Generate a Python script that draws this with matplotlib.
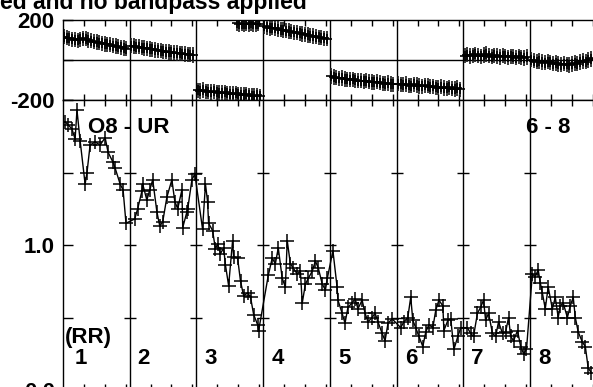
import numpy as np
import matplotlib
matplotlib.use('Agg')
import matplotlib.pyplot as plt

plt.rcParams['font.family'] = ['Liberation Sans', 'DejaVu Sans']
plt.rcParams['font.weight'] = 'bold'

# hours per baseline column, 8 columns side by side
col_hours = 32
column_labels = ['1', '2', '3', '4', '5', '6', '7', '8']

# amplitude (bottom panel), hours within each column
amp_hours = [
    [1.0, 2.4, 4.3, 5.8, 6.7, 8.2, 10.6, 11.5, 13.0, 15.4, 17.8, 20.2, 21.6, 24.0, 25.0, 27.4, 28.8, 30.2],
    [2.4, 3.8, 5.8, 6.2, 8.2, 9.6, 11.0, 13.0, 14.4, 15.8, 17.8, 20.2, 21.6, 23.0, 25.0, 25.4, 27.4, 27.8, 29.8, 31.2],
    [2.9, 4.3, 5.3, 5.8, 7.7, 9.1, 10.1, 11.5, 13.0, 13.9, 15.4, 17.3, 17.8, 19.7, 21.1, 22.6, 24.5, 25.9, 27.4, 29.3, 29.8],
    [2.4, 4.3, 5.8, 7.2, 9.1, 10.6, 11.5, 13.0, 14.4, 16.3, 17.8, 18.7, 20.2, 21.6, 23.5, 25.0, 26.4, 28.3, 29.8, 30.7],
    [1.4, 3.4, 3.8, 5.8, 7.2, 8.6, 10.6, 12.0, 13.4, 15.4, 16.8, 18.2, 20.2, 21.6, 23.0, 25.0, 26.4, 27.8, 29.8],
    [1.9, 3.4, 5.3, 6.7, 7.7, 9.1, 10.6, 12.5, 13.9, 15.4, 17.3, 18.7, 20.2, 22.1, 22.6, 24.5, 25.9, 27.4, 29.3, 30.7],
    [1.9, 3.4, 4.8, 6.7, 8.2, 9.6, 10.6, 12.0, 13.9, 15.4, 16.8, 18.7, 20.2, 21.6, 22.6, 24.0, 25.9, 27.4, 28.8, 30.2],
    [1.0, 2.4, 3.8, 4.8, 5.8, 7.2, 8.6, 10.6, 12.0, 13.4, 14.4, 15.8, 17.8, 19.2, 20.6, 21.6, 23.0, 25.0, 26.4, 27.8, 29.3],
]
amp_values = [
    [1.85, 1.83, 1.80, 1.73, 1.93, 1.72, 1.42, 1.50, 1.69, 1.71, 1.69, 1.74, 1.64, 1.57, 1.53, 1.42, 1.38, 1.15],
    [1.18, 1.25, 1.37, 1.42, 1.31, 1.38, 1.45, 1.23, 1.13, 1.16, 1.33, 1.45, 1.30, 1.25, 1.38, 1.12, 1.23, 1.25, 1.45, 1.49],
    [1.11, 1.42, 1.30, 1.15, 1.10, 0.97, 1.01, 0.94, 0.98, 0.86, 0.72, 1.03, 0.92, 0.91, 0.75, 0.65, 0.67, 0.64, 0.52, 0.45, 0.41],
    [0.79, 0.91, 0.87, 0.98, 0.77, 0.71, 1.03, 0.87, 0.84, 0.80, 0.82, 0.60, 0.73, 0.77, 0.82, 0.89, 0.84, 0.73, 0.69, 0.77],
    [0.96, 0.71, 0.62, 0.53, 0.46, 0.57, 0.60, 0.63, 0.56, 0.62, 0.53, 0.47, 0.50, 0.53, 0.47, 0.39, 0.34, 0.46, 0.49],
    [0.43, 0.47, 0.50, 0.64, 0.48, 0.43, 0.37, 0.30, 0.40, 0.45, 0.43, 0.55, 0.62, 0.58, 0.41, 0.48, 0.49, 0.28, 0.37, 0.43],
    [0.43, 0.39, 0.37, 0.53, 0.57, 0.62, 0.48, 0.53, 0.39, 0.37, 0.47, 0.39, 0.40, 0.50, 0.37, 0.34, 0.41, 0.30, 0.25, 0.28],
    [0.80, 0.78, 0.83, 0.74, 0.67, 0.56, 0.71, 0.56, 0.64, 0.50, 0.58, 0.60, 0.50, 0.58, 0.64, 0.50, 0.40, 0.33, 0.30, 0.15, 0.12],
]

# phase (top panel), degrees
phase_hours = [0.5, 1.8, 3.1, 4.4, 5.7, 7.0, 8.3, 9.6, 10.9, 12.2, 13.5, 14.8,
               16.1, 17.4, 18.7, 20.0, 21.3, 22.6, 23.9, 25.2, 26.5, 27.8, 29.1, 30.4]
phase_values = [
    [117, 112, 108, 104, 101, 99, 103, 108, 106, 100, 96, 92, 90, 86, 84, 80, 78, 76, 72, 70, 66, 63, 60, 57],
    [72, 70, 67, 66, 62, 60, 58, 55, 53, 50, 48, 46, 44, 42, 40, 38, 36, 35, 33, 31, 30, 28, 27, 25],
    [-152, -155, -150, -157, -158, -160, -156, -162, -163, -165, -161, -167, -168, -170, -166, -172, -173, -175, -171, -177, -178, -180, -176, -182],
    [168, 165, 160, 162, 158, 155, 152, 150, 147, 145, 141, 139, 136, 133, 130, 128, 125, 122, 120, 117, 114, 112, 109, 106],
    [-80, -85, -88, -92, -90, -95, -97, -99, -96, -101, -103, -104, -106, -103, -108, -110, -112, -109, -114, -116, -118, -115, -120, -122],
    [-118, -122, -124, -120, -126, -128, -122, -125, -130, -132, -127, -129, -134, -131, -136, -138, -133, -140, -142, -137, -143, -145, -140, -147],
    [22, 26, 20, 24, 28, 22, 18, 25, 30, 21, 17, 23, 20, 15, 22, 18, 14, 19, 16, 12, 18, 14, 10, 15],
    [2, -3, -8, -5, -10, -14, -8, -12, -18, -15, -20, -24, -18, -22, -25, -20, -15, -18, -10, -5, -8, 0, 5, 8],
]
# wrapped phase points of column 3 near +180
wrap_hours = [19.5, 20.6, 21.7, 22.8, 23.9, 25.0, 26.1, 27.2, 28.3, 29.4]
wrap_values = [183, 180, 182, 178, 181, 179, 183, 180, 178, 181]
phase_err = 38

fig = plt.figure(figsize=(5.93, 3.87), dpi=100)
ax_ph = fig.add_axes([63 / 593, 1 - 100 / 387, 534 / 593, 80 / 387])
ax_amp = fig.add_axes([63 / 593, 1 - 390 / 387, 534 / 593, 290 / 387])

n_cols = len(column_labels)
bounds = [k * col_hours for k in range(1, n_cols)]
minor_x = [c * col_hours + t for c in range(n_cols) for t in (10, 20, 30)]

for ax in (ax_ph, ax_amp):
    ax.set_xlim(0, n_cols * col_hours)
    ax.set_xticks(minor_x, labels=[])
    ax.tick_params(axis='x', direction='in', top=True, bottom=True, length=4, width=1)
    ax.tick_params(axis='y', direction='in', length=7, width=1, labelsize=16, pad=6)
    for s in ax.spines.values():
        s.set_linewidth(1)
    for b in bounds:
        ax.axvline(b, color='k', lw=1)

# phase panel
ax_ph.set_ylim(-200, 200)
ax_ph.set_yticks([-200, 0, 200], ['-200', '', '200'])
ax_ph.axhline(0, color='k', lw=1)
for c in range(n_cols):
    x = c * col_hours + np.array(phase_hours)
    ax_ph.errorbar(x, phase_values[c], yerr=phase_err, fmt='-+', color='k',
                   lw=1, ms=7, mew=1.2, elinewidth=1.2, ecolor='#1a1a1a', capsize=0)
ax_ph.errorbar(2 * col_hours + np.array(wrap_hours), wrap_values, yerr=phase_err,
               fmt='-+', color='k', lw=1, ms=7, mew=1.2, elinewidth=1.2,
               ecolor='#1a1a1a', capsize=0)

# amplitude panel
ax_amp.set_ylim(0, 2.0)
ax_amp.set_yticks([0, 0.5, 1.0, 1.5, 2.0], ['0.0', '', '1.0', '', ''])
ax_amp.plot(np.repeat(bounds, 3), np.tile([0.5, 1.0, 1.5], len(bounds)),
            ls='none', marker='_', ms=9, mew=1, color='k')

x_amp = np.concatenate([c * col_hours + np.array(h) for c, h in enumerate(amp_hours)])
y_amp = np.concatenate(amp_values)
ax_amp.plot(x_amp, y_amp, '-', color='k', lw=1, marker='+', ms=10.5, mew=1.1)

ax_amp.text(12, 1.81, 'O8 - UR', fontsize=16, fontweight='bold', va='center')
ax_amp.text(221.8, 1.81, '6 - 8', fontsize=16, fontweight='bold', va='center')
ax_amp.text(1, 0.365, '(RR)', fontsize=16, fontweight='bold', va='center')
for c, lab in enumerate(column_labels):
    off = 5.8 if c == 0 else 3.8
    ax_amp.text(c * col_hours + off, 0.22, lab, fontsize=16, fontweight='bold', va='center')

fig.text(0, 1 - 8.5 / 387, 'ed and no bandpass applied', ha='left', va='baseline',
         fontsize=16.5, fontweight='bold')

fig.savefig('out.png', dpi=100)
